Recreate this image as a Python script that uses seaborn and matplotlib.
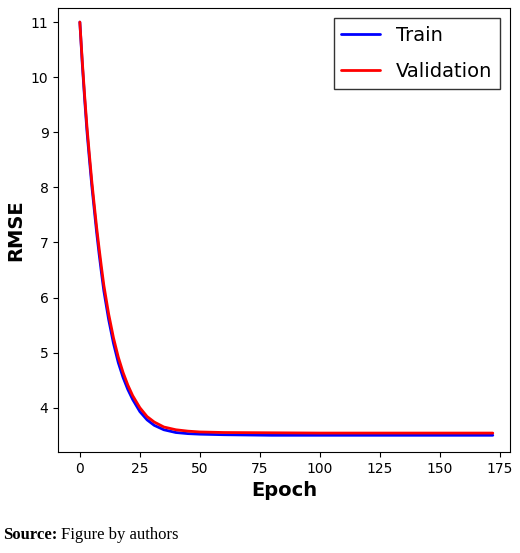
import matplotlib
matplotlib.use("Agg")
import matplotlib.pyplot as plt
import seaborn as sns
import pandas as pd

epochs = [0, 1, 2, 3, 4, 5, 6, 7, 8, 9, 10, 12, 14, 16, 18, 20, 22, 25, 28, 31, 35, 40, 45, 50, 60, 80, 100, 125, 150, 172]
train = [11.0, 10.25, 9.6, 9.0, 8.5, 8.02, 7.6, 7.18, 6.8, 6.45, 6.12, 5.6, 5.17, 4.82, 4.55, 4.33, 4.15, 3.93, 3.78, 3.68, 3.6, 3.55, 3.53, 3.52, 3.51, 3.50, 3.50, 3.50, 3.50, 3.50]
val = [11.0, 10.3, 9.66, 9.08, 8.58, 8.1, 7.68, 7.27, 6.9, 6.55, 6.22, 5.7, 5.27, 4.92, 4.64, 4.41, 4.22, 4.0, 3.84, 3.74, 3.65, 3.6, 3.575, 3.56, 3.55, 3.545, 3.54, 3.54, 3.54, 3.54]

df = pd.DataFrame({"Epoch": epochs * 2, "RMSE": train + val,
                   "Set": ["Train"] * len(epochs) + ["Validation"] * len(epochs)})

sns.set_style("ticks")
plt.rcParams['font.family'] = ['DejaVu Sans']
plt.rcParams['text.color'] = 'black'
plt.rcParams['axes.labelcolor'] = 'black'
plt.rcParams['xtick.color'] = 'black'
plt.rcParams['ytick.color'] = 'black'
fig = plt.figure(figsize=(5.2, 5.53), dpi=100)
ax = fig.add_axes([0.112, 0.183, 0.868, 0.802])
sns.lineplot(data=df, x="Epoch", y="RMSE", hue="Set", palette={"Train": "blue", "Validation": "red"},
             linewidth=2, ax=ax)
for s in ax.spines.values():
    s.set_color("black")
ax.set_xlim(-9, 179)
ax.set_ylim(3.2, 11.25)
ax.set_xticks([0, 25, 50, 75, 100, 125, 150, 175])
ax.set_yticks([4, 5, 6, 7, 8, 9, 10, 11])
ax.tick_params(labelsize=10)
ax.set_xlabel("Epoch", fontsize=14, fontweight="bold")
ax.set_ylabel("RMSE", fontsize=14, fontweight="bold")
leg = ax.legend(loc="upper right", fontsize=14, fancybox=False, edgecolor="black", labelspacing=0.9)
leg.get_frame().set_linewidth(1)
fig.text(0.005, 0.025, "Source:", fontfamily="Liberation Serif", fontweight="bold", fontsize=12)
fig.text(0.118, 0.025, "Figure by authors", fontfamily="Liberation Serif", fontsize=12)
fig.savefig("out.png", dpi=100)
